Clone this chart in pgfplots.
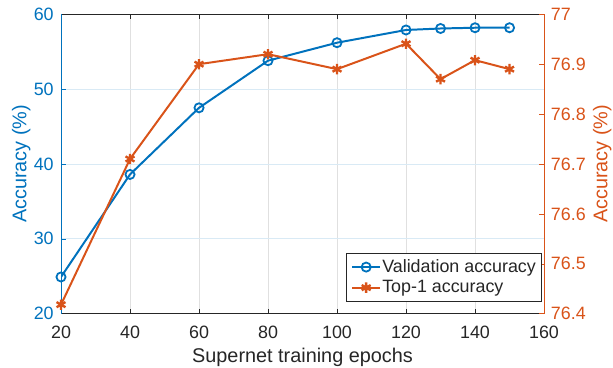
\documentclass[border=0pt]{standalone}
\usepackage{pgfplots}
\pgfplotsset{compat=1.18}
\usepackage{fontspec}
\setmainfont{Liberation Sans}
\definecolor{mblue}{rgb}{0,0.447,0.741}
\definecolor{morange}{rgb}{0.85,0.325,0.098}
\definecolor{mgray}{rgb}{0.15,0.15,0.15}
\begin{document}
\begin{tikzpicture}
\pgfplotsset{
  common/.style={
    scale only axis, width=243.3pt, height=150.8pt,
    xmin=20, xmax=160, xtick={20,40,...,160},
    /pgf/number format/assume math mode=true,
    tick label style={font=\fontsize{9}{10}\selectfont, inner sep=0pt},
    label style={font=\fontsize{10}{12}\selectfont, inner sep=0pt},
    major tick length=2.5pt,
    tick align=inside,
  }
}
\begin{axis}[common,
  ymin=20, ymax=60, ytick={20,30,...,60},
  axis y line*=left,
  axis x line*=box,
  x axis line style={draw=mgray, line width=0.5pt},
  y axis line style={draw=mblue, line width=0.5pt},
  x tick style={draw=mgray},
  y tick style={draw=mblue},
  xticklabel style={text=mgray, yshift=-6pt},
  yticklabel style={text=mblue, xshift=-3.5pt},
  xlabel={Supernet training epochs},
  xlabel style={text=mgray},
  xlabel shift=4.5pt,
  ylabel={Accuracy (\%)},
  ylabel style={text=mblue},
  ylabel shift=1.5pt,
  xmajorgrids, ymajorgrids,
  x grid style={draw=black!12, line width=0.4pt},
  y grid style={draw=mblue!15, line width=0.4pt},
]
\addplot[mblue, line width=1pt, mark=o, mark size=2.3pt, mark options={solid, line width=0.9pt}] coordinates {
(20,24.9) (40,38.6) (60,47.5) (80,53.8) (100,56.2) (120,57.9) (130,58.1) (140,58.2) (150,58.2)
};
\end{axis}
\begin{axis}[common,
  ymin=76.4, ymax=77, ytick={76.4,76.5,...,77.0},
  yticklabel style={/pgf/number format/fixed, /pgf/number format/precision=1, text=morange, xshift=3.3pt},
  axis y line*=right,
  axis x line=none,
  y axis line style={draw=morange, line width=0.5pt},
  y tick style={draw=morange},
  ylabel={Accuracy (\%)},
  ylabel style={text=morange},
  ylabel shift=3.5pt,
  legend style={at={(1,0)}, anchor=south east, xshift=-0.85pt, yshift=6pt,
    draw=mgray, line width=0.5pt, fill=white,
    font=\fontsize{9}{10}\selectfont, text=mgray,
    inner xsep=2.5pt, inner ysep=2.5pt, row sep=1.5pt,
    nodes={inner sep=0.5pt},
    legend cell align=left},
  legend image code/.code={\draw[mark repeat=2, mark phase=2, #1] plot coordinates {(0cm,0cm) (0.25cm,0cm) (0.5cm,0cm)};},
]
\addlegendimage{mblue, line width=1pt, mark=o, mark size=2.3pt, mark options={solid, line width=0.9pt}}
\addlegendentry{Validation accuracy}
\addplot[morange, line width=1pt, mark=asterisk, mark size=2.6pt, mark options={solid, line width=1.2pt}] coordinates {
(20,76.418) (40,76.71) (60,76.90) (80,76.92) (100,76.89) (120,76.941) (130,76.87) (140,76.908) (150,76.89)
};
\addlegendentry{Top-1 accuracy}
\end{axis}
\coordinate (bbsw) at (current bounding box.south west);
\coordinate (bbne) at (current bounding box.north east);
\path ([shift={(-6pt,-0.5pt)}]bbsw) ([shift={(0.7pt,4pt)}]bbne);
\end{tikzpicture}
\end{document}
